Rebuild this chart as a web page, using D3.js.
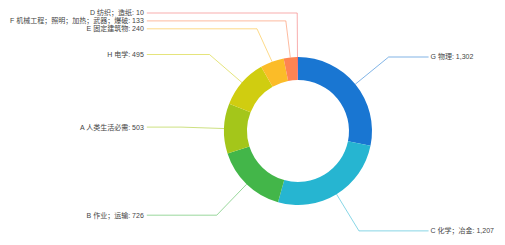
<!DOCTYPE html>
<html><head><meta charset="utf-8">
<script src="https://cdn.jsdelivr.net/npm/d3@7"></script>
<style>html,body{margin:0;padding:0;background:#fff;}svg{display:block;}</style>
</head><body>
<svg id="chart" width="505" height="245"></svg>
<script>
const categories = ["G 物理", "C 化学；冶金", "B 作业；运输", "A 人类生活必需", "H 电学", "E 固定建筑物", "F 机械工程；照明；加热；武器；爆破", "D 纺织；造纸"];
const values = [1302, 1207, 726, 503, 495, 240, 133, 10];
const colors = ["#1976d2", "#26b5d1", "#43b649", "#a4c61a", "#d0cd10", "#fbbc28", "#fe8452", "#f26a6a"];

const W = 505, H = 245;
const cx = 298, cy = 131, rOuter = 74, rInner = 51;
const len1 = 43, gap = 7.9, fontSize = 7, edgeMargin = 10;
const fontFam = "'Liberation Sans', Arial, 'Noto Sans CJK SC', sans-serif";
const fmt = d3.format(",");

const svg = d3.select("#chart");
const g = svg.append("g").attr("transform", `translate(${cx},${cy})`);

const data = categories.map((c, i) => ({name: c, value: values[i], color: colors[i]}));
const pie = d3.pie().sort(null).value(d => d.value);
const arcs = pie(data);
const arc = d3.arc().innerRadius(rInner).outerRadius(rOuter);

g.selectAll("path.slice").data(arcs).join("path")
  .attr("class", "slice")
  .attr("d", arc)
  .attr("fill", d => d.data.color);

// label layout
const labels = arcs.map(d => {
  const a = (d.startAngle + d.endAngle) / 2;
  const s = Math.sin(a), c = -Math.cos(a);
  return {
    d, a,
    p1: [s * rOuter, c * rOuter],
    ex: s * (rOuter + len1),
    ey: c * (rOuter + len1),
    right: s >= 0,
    text: `${d.data.name}: ${fmt(d.data.value)}`
  };
});

// measure text
const meas = svg.append("text").attr("font-size", fontSize).attr("font-family", fontFam);
labels.forEach(l => { meas.text(l.text); l.w = meas.node().getComputedTextLength(); });
meas.remove();

// overlap avoidance (push down, then lift cluster slightly) per side
[true, false].forEach(side => {
  const arr = labels.filter(l => l.right === side).sort((a, b) => a.ey - b.ey);
  const orig = arr.map(l => l.ey);
  for (let i = 1; i < arr.length; i++) {
    if (arr[i].ey - arr[i - 1].ey < gap) arr[i].ey = arr[i - 1].ey + gap;
  }
  // lift the first cluster a little toward its original centre (keeps spacing)
  if (arr.length > 1) {
    let j = 1;
    while (j < arr.length && Math.abs(arr[j].ey - arr[j - 1].ey - gap) < 1e-6) j++;
    if (j > 1) {
      const shift = Math.min(1, arr[0].ey - (-cy + 8));
      for (let k = 0; k < j; k++) arr[k].ey -= shift;
    }
  }
});

const maxLeft = d3.max(labels.filter(l => !l.right), l => l.w) || 0;
const maxRight = d3.max(labels.filter(l => l.right), l => l.w) || 0;
const leftEnd = edgeMargin + maxLeft + 3 - cx;
const rightEnd = W - edgeMargin - maxRight - 3 - cx;

g.selectAll("polyline.ll").data(labels).join("polyline")
  .attr("class", "ll")
  .attr("fill", "none")
  .attr("stroke", l => l.d.data.color)
  .attr("stroke-opacity", 0.55)
  .attr("stroke-width", 1)
  .attr("points", l => [l.p1, [l.ex, l.ey], [l.right ? rightEnd : leftEnd, l.ey]].map(p => p.join(",")).join(" "));

g.selectAll("text.lbl").data(labels).join("text")
  .attr("class", "lbl")
  .attr("x", l => l.right ? rightEnd + 2 : leftEnd - 3)
  .attr("y", l => l.ey)
  .attr("dy", "0.35em")
  .attr("text-anchor", l => l.right ? "start" : "end")
  .attr("font-size", fontSize)
  .attr("font-family", fontFam)
  .attr("fill", "#444")
  .text(l => l.text);
</script>
</body></html>
